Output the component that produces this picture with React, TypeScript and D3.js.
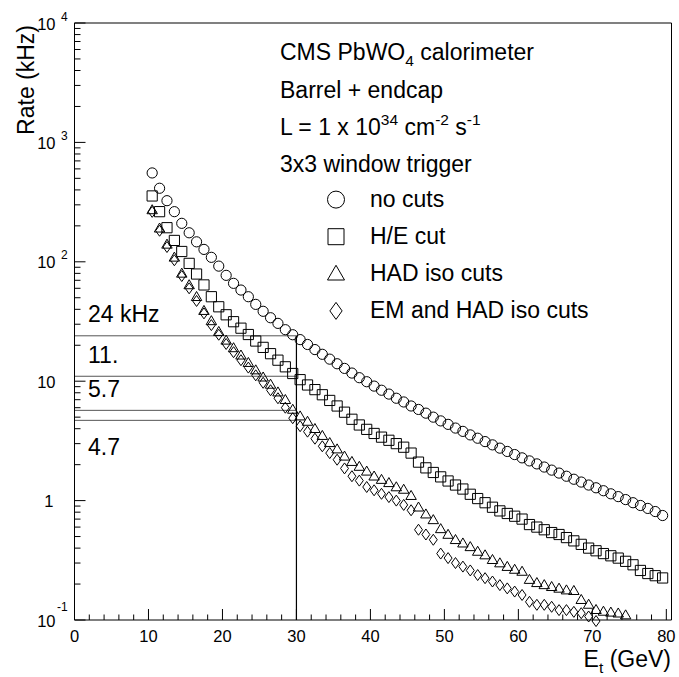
import React from "react";
import * as d3 from "d3";

// Bin centres (GeV)
const etBins: number[] = [
  10.5, 11.5, 12.5, 13.5, 14.5, 15.5, 16.5, 17.5, 18.5, 19.5,
  20.5, 21.5, 22.5, 23.5, 24.5, 25.5, 26.5, 27.5, 28.5, 29.5,
  30.5, 31.5, 32.5, 33.5, 34.5, 35.5, 36.5, 37.5, 38.5, 39.5,
  40.5, 41.5, 42.5, 43.5, 44.5, 45.5, 46.5, 47.5, 48.5, 49.5,
  50.5, 51.5, 52.5, 53.5, 54.5, 55.5, 56.5, 57.5, 58.5, 59.5,
  60.5, 61.5, 62.5, 63.5, 64.5, 65.5, 66.5, 67.5, 68.5, 69.5,
  70.5, 71.5, 72.5, 73.5, 74.5, 75.5, 76.5, 77.5, 78.5, 79.5,
];

// Rates (kHz)
const noCuts: number[] = [
  555, 413, 325, 263, 210, 175, 147, 127, 109, 92,
  77, 66, 58, 51, 44, 38.5, 34, 30.5, 27, 24.5,
  22.3, 20.3, 18.4, 16.8, 15.3, 14.0, 12.8, 11.7, 10.7, 9.9,
  9.1, 8.4, 7.8, 7.2, 6.7, 6.2, 5.8, 5.4, 5.0, 4.65,
  4.35, 4.05, 3.8, 3.55, 3.33, 3.12, 2.93, 2.75, 2.58, 2.43,
  2.28, 2.15, 2.03, 1.91, 1.8, 1.7, 1.6, 1.51, 1.43, 1.35,
  1.28, 1.21, 1.14, 1.08, 1.02, 0.96, 0.91, 0.86, 0.81, 0.75,
];

const heCut: number[] = [
  356, 263, 193, 151, 122, 97, 79, 64, 51, 42,
  36, 31.5, 27.8, 24.6, 21.7, 19.2, 17.0, 15.0, 13.2, 11.6,
  10.3, 9.3, 8.5, 7.7, 6.9, 6.2, 5.5, 4.8, 4.3, 3.95,
  3.65, 3.4, 3.2, 3.0, 2.8, 2.5, 2.1, 1.88, 1.72, 1.58,
  1.46, 1.35, 1.25, 1.13, 1.04, 0.96, 0.88, 0.82, 0.78, 0.74,
  0.7, 0.63, 0.6, 0.57, 0.54, 0.52, 0.49, 0.46, 0.43, 0.4,
  0.38, 0.36, 0.345, 0.33, 0.31, 0.29, 0.26, 0.245, 0.235, 0.225,
];

const hadIso: number[] = [
  272, 191, 140, 109, 80, 64, 51, 39, 32, 26,
  22, 19, 16.5, 14.3, 12.4, 10.8, 9.4, 8.1, 7.0, 5.8,
  5.1, 4.6, 4.0, 3.5, 3.05, 2.7, 2.35, 2.12, 1.93, 1.76,
  1.6, 1.5, 1.41, 1.3, 1.24, 1.1, 0.88, 0.77, 0.69, 0.58,
  0.52, 0.47, 0.44, 0.41, 0.375, 0.35, 0.32, 0.3, 0.28, 0.265,
  0.255, 0.218, 0.205, 0.197, 0.19, 0.184, 0.178, 0.176, 0.148, 0.135,
  0.122, 0.118, 0.116, 0.114, 0.11,
];

const emHadIso: number[] = [
  262, 182, 133, 103, 76, 60, 47, 37, 29.5, 24.5,
  20.5, 17.5, 15.0, 13.0, 11.2, 9.7, 8.4, 7.2, 6.0, 4.9,
  4.2, 3.78, 3.3, 2.85, 2.5, 2.2, 1.86, 1.6, 1.47, 1.3,
  1.22, 1.14, 1.07, 1.0, 0.92, 0.83, 0.57, 0.52, 0.47, 0.36,
  0.33, 0.3, 0.28, 0.26, 0.238, 0.224, 0.21, 0.196, 0.184, 0.173,
  0.162, 0.142, 0.134, 0.134, 0.129, 0.121, 0.121, 0.117, 0.114, 0.107,
  0.098,
];

const thresholdRates: number[] = [24, 11, 5.7, 4.7];
const thresholdLabels: string[] = ["24 kHz", "11.", "5.7", "4.7"];
const thresholdEt = 30;

const xTicksMajor: number[] = [0, 10, 20, 30, 40, 50, 60, 70, 80];
const yDecades: number[] = [0.1, 1, 10, 100, 1000, 10000];
const yDecadeBase: string[] = ["10", "1", "10", "10", "10", "10"];
const yDecadeExp: string[] = ["-1", "", "", "2", "3", "4"];

const legendLines: string[] = ["no cuts", "H/E cut", "HAD iso cuts", "EM and HAD iso cuts"];

const FONT = "'Liberation Sans', Arial, Helvetica, sans-serif";
const BIG = 23;
const SMALL = 15.5;

type Shape = "circle" | "square" | "triangle" | "diamond";

function markerPath(shape: Shape, x: number, y: number, s: number): string {
  const h = s / 2;
  if (shape === "square") {
    return `M${x - h},${y - h}h${s}v${s}h${-s}Z`;
  }
  if (shape === "triangle") {
    const hw = h * 1.1;
    return `M${x},${y - h * 1.1}L${x + hw},${y + h * 0.8}L${x - hw},${y + h * 0.8}Z`;
  }
  if (shape === "diamond") {
    const hw = h * 0.72;
    return `M${x},${y - h}L${x + hw},${y}L${x},${y + h}L${x - hw},${y}Z`;
  }
  return "";
}

function Marker({ shape, x, y, s }: { shape: Shape; x: number; y: number; s: number }) {
  if (shape === "circle") {
    return <circle cx={x} cy={y} r={s / 2} fill="none" stroke="#000" strokeWidth={1} />;
  }
  return <path d={markerPath(shape, x, y, s)} fill="none" stroke="#000" strokeWidth={1} />;
}

export default function App() {
  const W = 679;
  const H = 677;
  const left = 74.5;
  const right = 671.5;
  const top = 23;
  const bottom = 620;

  const x = d3.scaleLinear().domain([0, 80.7]).range([left, right]);
  const y = d3.scaleLog().domain([0.1, 10000]).range([bottom, top]);

  const xMinor = d3.range(0, 81, 2).filter((v) => v % 10 !== 0);
  const yMinor: number[] = [];
  for (const d of [0.1, 1, 10, 100, 1000]) {
    for (let m = 2; m <= 9; m++) yMinor.push(d * m);
  }

  const series: { shape: Shape; vals: number[] }[] = [
    { shape: "circle", vals: noCuts },
    { shape: "square", vals: heCut },
    { shape: "triangle", vals: hadIso },
    { shape: "diamond", vals: emHadIso },
  ];

  const legendShapes: Shape[] = ["circle", "square", "triangle", "diamond"];
  const legendSizes = [17, 16, 15.5, 17];

  return (
    <svg width={W} height={H} style={{ position: "absolute", left: 0, top: 0, background: "#fff" }} fontFamily={FONT}>
      <rect x={0} y={0} width={W} height={H} fill="#fff" />

      {/* threshold lines */}
      {thresholdRates.map((r, i) => (
        <line key={"th" + i} x1={left} x2={x(thresholdEt)} y1={y(r)} y2={y(r)} stroke="#555" strokeWidth={1} />
      ))}
      <line x1={x(thresholdEt)} x2={x(thresholdEt)} y1={y(thresholdRates[0])} y2={bottom} stroke="#000" strokeWidth={1.2} />
      {thresholdRates.map((r, i) => (
        <text key={"tl" + i} x={88} y={y(r) + (i === 3 ? 35 : -13.5)} fontSize={BIG} fill="#000">
          {thresholdLabels[i]}
        </text>
      ))}

      {/* data markers */}
      {series.map((s, si) =>
        s.vals.map((v, i) => (
          <Marker key={si + "-" + i} shape={s.shape} x={x(etBins[i])} y={y(v)} s={s.shape === "diamond" ? 11 : s.shape === "triangle" ? 9.5 : 10.2} />
        ))
      )}

      {/* frame */}
      <line x1={left} x2={right} y1={top} y2={top} stroke="#808080" strokeWidth={2} />
      <line x1={right} x2={right} y1={top} y2={bottom} stroke="#000" strokeWidth={1} />
      <line x1={left} x2={left} y1={top} y2={bottom} stroke="#000" strokeWidth={1} />
      <line x1={left} x2={right} y1={bottom} y2={bottom} stroke="#000" strokeWidth={1} />

      {/* x ticks */}
      {xTicksMajor.map((t) => (
        <g key={"xt" + t}>
          <line x1={x(t)} x2={x(t)} y1={bottom} y2={bottom - 11} stroke="#000" strokeWidth={1} />
          <text x={x(t)} y={642} fontSize={16.5} textAnchor="middle" fill="#000">
            {t}
          </text>
        </g>
      ))}
      {xMinor.map((t) => (
        <line key={"xm" + t} x1={x(t)} x2={x(t)} y1={bottom} y2={bottom - 5.5} stroke="#000" strokeWidth={1} />
      ))}

      {/* y ticks */}
      {yDecades.map((d, i) => (
        <g key={"yt" + i}>
          <line x1={left} x2={left + 11} y1={y(d)} y2={y(d)} stroke="#000" strokeWidth={1} />
          <text x={yDecadeBase[i] === "1" ? 53.5 : 55.5} y={y(d) + 6.5} fontSize={16.5} textAnchor="end" fill="#000">
            {yDecadeBase[i]}
          </text>
          {yDecadeExp[i] && (
            <text x={yDecadeExp[i] === "-1" ? 57 : 61} y={y(d) + (yDecadeExp[i] === "-1" ? -9 : -2.5)} fontSize={12} fill="#000">
              {yDecadeExp[i]}
            </text>
          )}
        </g>
      ))}
      {yMinor.map((t, i) => (
        <line key={"ym" + i} x1={left} x2={left + 6} y1={y(t)} y2={y(t)} stroke="#000" strokeWidth={1} />
      ))}

      {/* axis titles */}
      <text transform={`translate(34,25) rotate(-90)`} fontSize={BIG} textAnchor="end" fill="#000">
        Rate (kHz)
      </text>
      <text x={671} y={667} fontSize={BIG} textAnchor="end" fill="#000">
        E<tspan fontSize={SMALL} dy={6}>t</tspan>
        <tspan dy={-6}> (GeV)</tspan>
      </text>

      {/* info text */}
      <text x={280} y={60} fontSize={BIG} fill="#000">
        CMS PbWO<tspan fontSize={SMALL} dy={6}>4</tspan>
        <tspan dy={-6}> calorimeter</tspan>
      </text>
      <text x={280} y={98} fontSize={BIG} fill="#000">
        Barrel + endcap
      </text>
      <text x={280} y={135} fontSize={BIG} fill="#000">
        L = 1 x 10<tspan fontSize={SMALL} dy={-10}>34</tspan>
        <tspan dy={10}> cm</tspan>
        <tspan fontSize={SMALL} dy={-10}>-2</tspan>
        <tspan dy={10}> s</tspan>
        <tspan fontSize={SMALL} dy={-10}>-1</tspan>
      </text>
      <text x={280} y={172} fontSize={BIG} fill="#000">
        3x3 window trigger
      </text>

      {/* legend */}
      {legendLines.map((lab, i) => {
        const base = 207 + i * 37.1;
        return (
          <g key={"lg" + i}>
            <Marker shape={legendShapes[i]} x={336} y={base - 7.4} s={legendSizes[i]} />
            <text x={370} y={base} fontSize={BIG} fill="#000">
              {lab}
            </text>
          </g>
        );
      })}
    </svg>
  );
}
